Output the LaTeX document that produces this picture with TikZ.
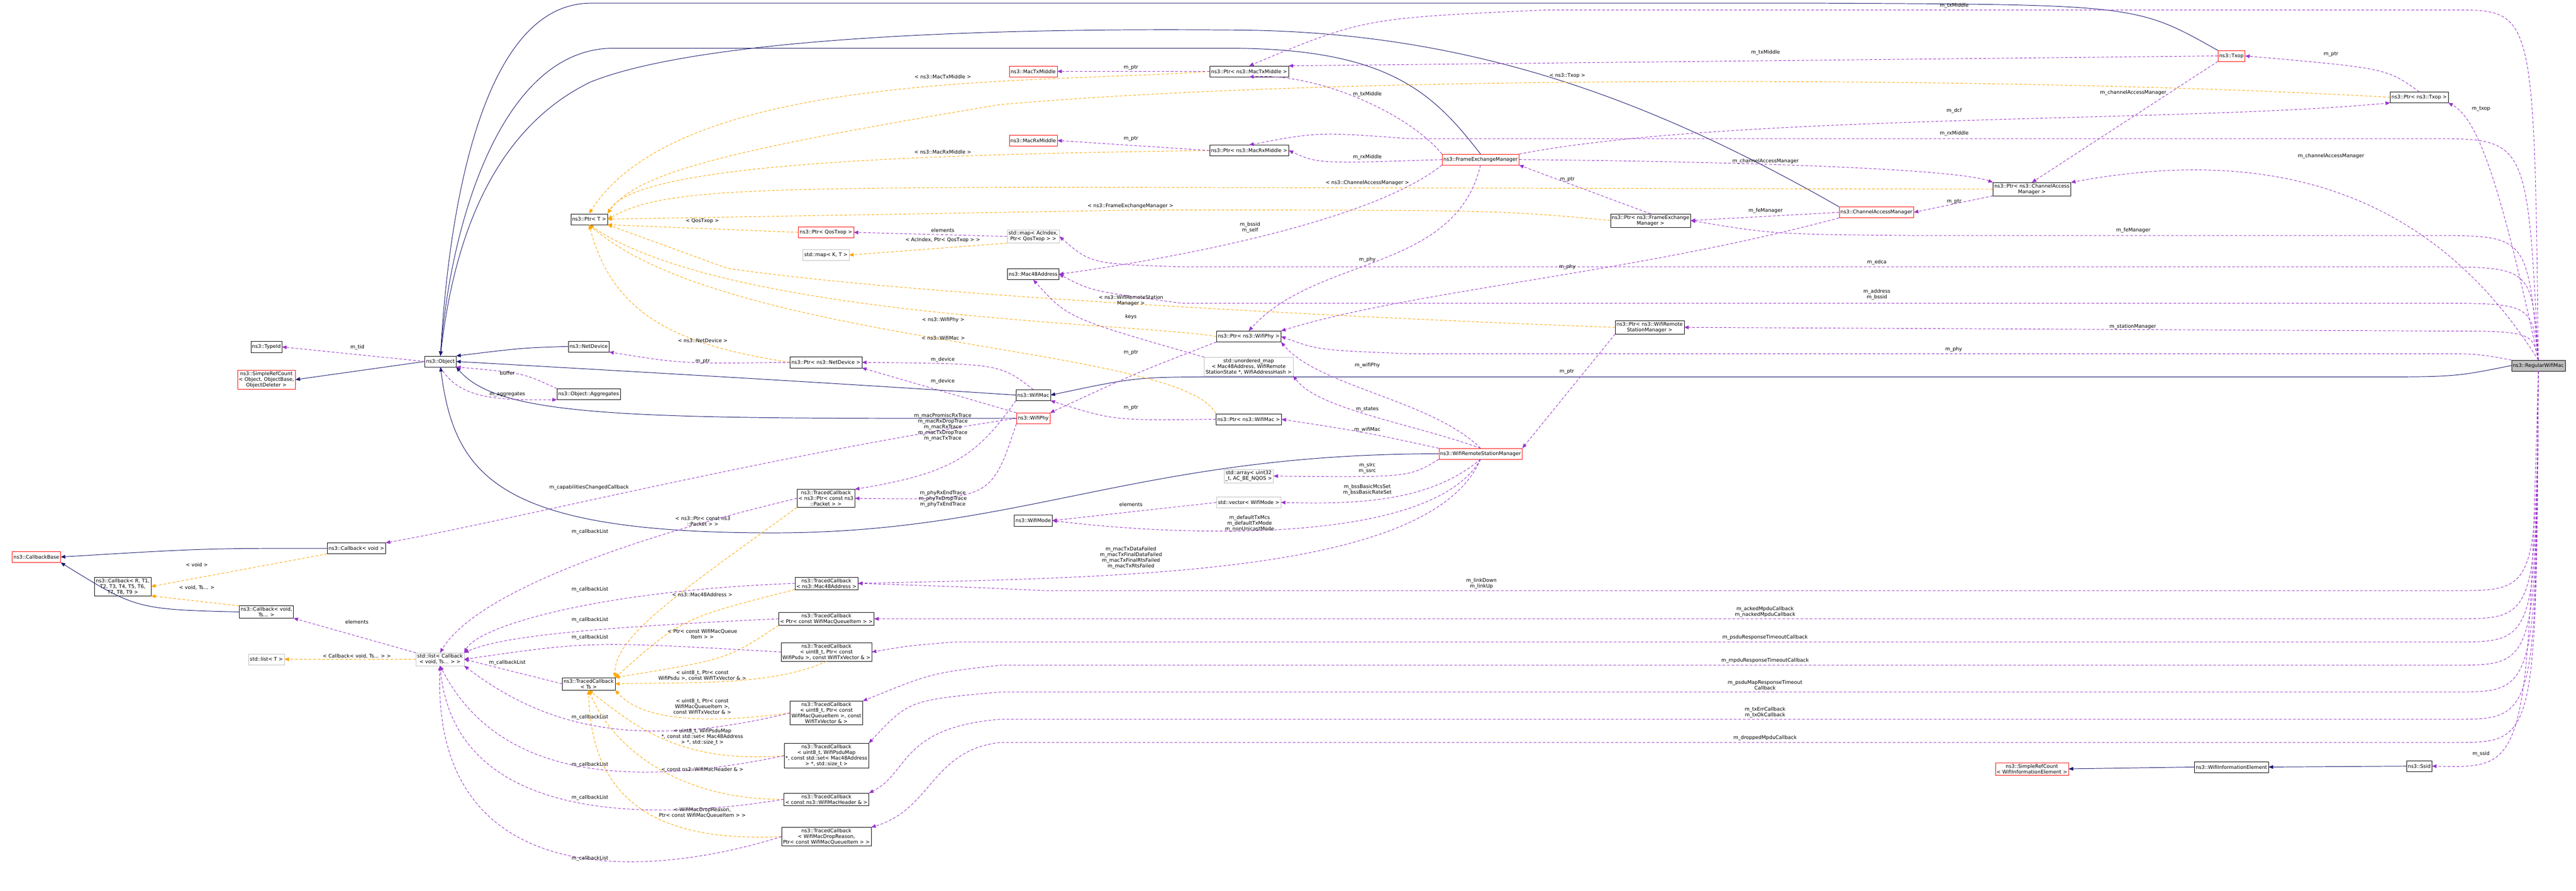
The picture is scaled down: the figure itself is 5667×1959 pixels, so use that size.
\documentclass[tikz,border=0pt]{standalone}
\usepackage{fontspec}
\usepackage{tikz}
\usetikzlibrary{arrows.meta}
\newfontfamily\dgfont{DejaVu Sans}
\newcommand\dgf{\dgfont\fontsize{11}{12.5}\selectfont}
\definecolor{navyblue}{HTML}{191970}
\definecolor{orchid}{HTML}{9A32CD}
\definecolor{tplorange}{HTML}{FFA500}
\tikzset{
  cls/.style={draw=black, fill=white, inner sep=3pt, minimum height=24pt, align=center, font=\dgf},
  redcls/.style={cls, draw=red},
  stdcls/.style={cls, draw=black!25},
  curcls/.style={cls, fill=black!25},
  lbl/.style={font=\dgf, align=center, inner sep=1pt},
  inh/.style={draw=navyblue, line width=1.1pt, -{Triangle[length=10pt,width=8pt]}},
  member/.style={draw=orchid, line width=1.1pt, dash pattern=on 6pt off 4pt, -{Triangle[length=10pt,width=8pt]}},
  tpl/.style={draw=tplorange, line width=1.1pt, dash pattern=on 6pt off 4pt, -{Triangle[length=10pt,width=8pt]}}
}
\begin{document}
\begin{tikzpicture}[x=1pt,y=-1pt]
\useasboundingbox (0,0) rectangle (5667,1959);
% classes
\node[curcls] (rwm) at (5584,804) {ns3::RegularWifiMac};
\node[cls] (obj) at (969,795) {ns3::Object};
\node[cls] (tid) at (586,763) {ns3::TypeId};
\node[redcls] (srco) at (586,835) {ns3::SimpleRefCount\\< Object, ObjectBase,\\ ObjectDeleter >};
\node[cls] (netdev) at (1295,762) {ns3::NetDevice};
\node[cls] (aggr) at (1295,867) {ns3::Object::Aggregates};
\node[cls] (ptrt) at (1296,482) {ns3::Ptr< T >};
\node[redcls] (ptrqos) at (1817,511) {ns3::Ptr< QosTxop >};
\node[stdcls] (mapkt) at (1817,561) {std::map< K, T >};
\node[stdcls] (mapac) at (2273,520) {std::map< AcIndex,\\ Ptr< QosTxop > >};
\node[cls] (mac48) at (2273,603) {ns3::Mac48Address};
\node[redcls] (txmid) at (2273,157) {ns3::MacTxMiddle};
\node[redcls] (rxmid) at (2273,309) {ns3::MacRxMiddle};
\node[cls] (ptrtxmid) at (2748,157) {ns3::Ptr< ns3::MacTxMiddle >};
\node[cls] (ptrrxmid) at (2748,331) {ns3::Ptr< ns3::MacRxMiddle >};
\node[redcls] (fem) at (3257,351) {ns3::FrameExchangeManager};
\node[cls] (ptrfem) at (3631,485) {ns3::Ptr< ns3::FrameExchange\\ Manager >};
\node[redcls] (cam) at (4128,467) {ns3::ChannelAccessManager};
\node[cls] (ptrcam) at (4470,416) {ns3::Ptr< ns3::ChannelAccess\\ Manager >};
\node[redcls] (txop) at (4909,123) {ns3::Txop};
\node[cls] (ptrtxop) at (5322,214) {ns3::Ptr< ns3::Txop >};
\node[cls] (ptrwrsm) at (3629,720) {ns3::Ptr< ns3::WifiRemote\\ StationManager >};
\node[redcls] (wrsm) at (3257,998) {ns3::WifiRemoteStationManager};
\node[cls] (ptrphy) at (2747,740) {ns3::Ptr< ns3::WifiPhy >};
\node[stdcls] (umap) at (2747,806) {std::unordered\_map\\< Mac48Address, WifiRemote\\ StationState *, WifiAddressHash >};
\node[cls] (wmac) at (2273,869) {ns3::WifiMac};
\node[redcls] (wphy) at (2273,920) {ns3::WifiPhy};
\node[cls] (ptrmac) at (2747,922) {ns3::Ptr< ns3::WifiMac >};
\node[stdcls] (arr) at (2747,1047) {std::array< uint32\\ \_t, AC\_BE\_NQOS >};
\node[stdcls] (vecmode) at (2747,1105) {std::vector< WifiMode >};
\node[cls] (mode) at (2273,1145) {ns3::WifiMode};
\node[cls] (ptrnd) at (1817,797) {ns3::Ptr< ns3::NetDevice >};
\node[cls] (tcpkt) at (1817,1096) {ns3::TracedCallback\\< ns3::Ptr< const ns3\\ ::Packet > >};
\node[cls] (cbvoid) at (784,1206) {ns3::Callback< void >};
\node[redcls] (cbbase) at (80,1225) {ns3::CallbackBase};
\node[cls] (cbr) at (270,1290) {ns3::Callback< R, T1,\\ T2, T3, T4, T5, T6,\\ T7, T8, T9 >};
\node[cls] (cbts) at (586,1346) {ns3::Callback< void,\\ Ts... >};
\node[stdcls] (lstcb) at (968,1450) {std::list< Callback\\ < void, Ts... > >};
\node[stdcls] (lstt) at (586,1450) {std::list< T >};
\node[cls] (tcts) at (1295,1504) {ns3::TracedCallback\\ < Ts >};
\node[cls] (tcmac) at (1818,1283) {ns3::TracedCallback\\< ns3::Mac48Address >};
\node[cls] (tcqi) at (1818,1361) {ns3::TracedCallback\\< Ptr< const WifiMacQueueItem > >};
\node[cls] (tcpsdu) at (1818,1434) {ns3::TracedCallback\\< uint8\_t, Ptr< const\\ WifiPsdu >, const WifiTxVector \& >};
\node[cls] (tcmpdu) at (1818,1568) {ns3::TracedCallback\\< uint8\_t, Ptr< const\\ WifiMacQueueItem >, const\\ WifiTxVector \& >};
\node[cls] (tcmap) at (1818,1662) {ns3::TracedCallback\\< uint8\_t, WifiPsduMap\\ *, const std::set< Mac48Address\\ > *, std::size\_t >};
\node[cls] (tchdr) at (1818,1758) {ns3::TracedCallback\\< const ns3::WifiMacHeader \& >};
\node[cls] (tcdrop) at (1818,1840) {ns3::TracedCallback\\< WifiMacDropReason,\\ Ptr< const WifiMacQueueItem > >};
\node[redcls] (srcwie) at (4470,1691) {ns3::SimpleRefCount\\< WifiInformationElement >};
\node[cls] (wie) at (4909,1687) {ns3::WifiInformationElement};
\node[cls] (ssid) at (5322,1685) {ns3::Ssid};

% inheritance
\draw[inh] (rwm.west) .. controls (5400,829) .. (5200,829) -- (2700,829) .. controls (2500,829) .. (wmac.east);
\draw[inh] (wmac.west) .. controls (1800,840) and (1300,812) .. (obj.east);
\draw[inh] (wphy.west) .. controls (1400,921) and (1100,920) .. (obj.south east);
\draw[inh] (netdev.west) .. controls (1150,765) .. (obj.north east);
\draw[inh] (obj.west) -- (srco.east);
\draw[inh] (wrsm.west) .. controls (2500,998) and (2250,1172) .. (1700,1172) .. controls (1100,1172) and (1000,1050) .. (obj.south);
\draw[inh] (txop.north west) .. controls (4700,10) .. (4000,7) -- (1300,7) .. controls (1050,7) and (985,500) .. (obj.north);
\draw[inh] (fem.north) .. controls (3150,200) and (3050,106) .. (2700,106) -- (1350,106) .. controls (1100,106) and (990,500) .. (obj.north);
\draw[inh] (cam.north west) .. controls (3600,200) and (3200,66) .. (2700,66) .. controls (2000,60) and (1500,100) .. (1300,180) .. controls (1050,300) and (990,600) .. (obj.north);
\draw[inh] (wie.west) -- (srcwie.east);
\draw[inh] (ssid.west) -- (wie.east);
\draw[inh] (cbvoid.west) .. controls (450,1206) .. (cbbase.east);
\draw[inh] (cbts.west) .. controls (300,1340) .. (cbbase.south east);

% template instances
\draw[tpl] (ptrtxmid.west) .. controls (2300,185) and (1500,150) .. (ptrt.north);
\draw[tpl] (ptrrxmid.west) .. controls (2000,340) and (1400,360) .. (ptrt.north east);
\draw[tpl] (ptrtxop.west) .. controls (4500,170) and (3000,160) .. (2200,230) .. controls (1600,330) and (1400,380) .. (ptrt.north east);
\draw[tpl] (ptrcam.west) -- (2400,412) .. controls (1600,412) and (1450,420) .. (ptrt.east);
\draw[tpl] (ptrfem.west) .. controls (3300,462) .. (2500,462) -- (ptrt.east);
\draw[tpl] (ptrqos.west) -- (ptrt.south east);
\draw[tpl] (ptrwrsm.west) .. controls (3000,700) and (2000,650) .. (1600,590) -- (ptrt.south east);
\draw[tpl] (ptrphy.west) .. controls (2500,710) and (1600,700) .. (ptrt.south);
\draw[tpl] (ptrmac.north west) .. controls (2600,760) and (1600,760) .. (ptrt.south);
\draw[tpl] (ptrnd.west) .. controls (1500,760) and (1350,700) .. (ptrt.south);
\draw[tpl] (mapac.south west) -- (mapkt.east);
\draw[tpl] (cbvoid.south west) -- (cbr.east);
\draw[tpl] (cbts.north west) -- (cbr.south east);
\draw[tpl] (lstcb.west) -- (lstt.east);
\draw[tpl] (tcpkt.south west) .. controls (1500,1300) and (1350,1400) .. (tcts.north east);
\draw[tpl] (tcmac.south west) .. controls (1500,1360) .. (tcts.north east);
\draw[tpl] (tcqi.south west) .. controls (1600,1450) .. (tcts.north east);
\draw[tpl] (tcpsdu.south) .. controls (1700,1510) and (1500,1500) .. (tcts.east);
\draw[tpl] (tcmpdu.west) .. controls (1500,1600) and (1400,1570) .. (tcts.south east);
\draw[tpl] (tcmap.west) .. controls (1500,1680) and (1400,1600) .. (tcts.south);
\draw[tpl] (tchdr.west) .. controls (1500,1760) and (1350,1650) .. (tcts.south);
\draw[tpl] (tcdrop.west) .. controls (1500,1850) and (1300,1800) .. (tcts.south);

% members
\draw[member] (obj.west) -- (tid.east);
\draw[member] (aggr.north west) .. controls (1150,820) .. (obj.south east);
\draw[member] (obj.south) .. controls (1010,880) and (1100,880) .. (aggr.south west);
\draw[member] (ptrtxmid.west) -- (txmid.east);
\draw[member] (ptrrxmid.west) -- (rxmid.east);
\draw[member] (ptrnd.west) .. controls (1500,800) .. (netdev.south east);
\draw[member] (ptrphy.south west) .. controls (2500,820) .. (wphy.north east);
\draw[member] (ptrmac.west) .. controls (2450,925) .. (wmac.south east);
\draw[member] (ptrfem.north) -- (fem.south east);
\draw[member] (ptrcam.south west) -- (cam.east);
\draw[member] (ptrtxop.north) .. controls (5250,150) .. (txop.east);
\draw[member] (ptrwrsm.south west) -- (wrsm.north east);
\draw[member] (mapac.west) -- (ptrqos.east);
\draw[member] (umap.north west) .. controls (2350,700) .. (mac48.south);
\draw[member] (vecmode.west) -- (mode.east);
\draw[member] (lstcb.north west) -- (cbts.south east);
% frame exchange manager
\draw[member] (fem.north west) .. controls (3100,250) and (2900,160) .. (ptrtxmid.south);
\draw[member] (fem.west) .. controls (2900,360) .. (ptrrxmid.east);
\draw[member] (fem.east) .. controls (3800,355) and (4300,370) .. (ptrcam.north west);
\draw[member] (fem.south west) .. controls (3000,500) and (2500,580) .. (mac48.east);
\draw[member] (fem.south) .. controls (3200,600) and (2900,560) .. (ptrphy.north);
\draw[member] (fem.north east) .. controls (3800,250) and (4800,270) .. (ptrtxop.south west);
\draw[member] (cam.west) -- (ptrfem.east);
\draw[member] (cam.south west) .. controls (3600,600) and (3100,640) .. (ptrphy.north east);
\draw[member] (txop.west) -- (ptrtxmid.north east);
\draw[member] (txop.south west) -- (ptrcam.north);
% regular wifi mac
\draw[member] (rwm.north) .. controls (5575,22) .. (5400,22) -- (3400,22) .. controls (3000,40) .. (ptrtxmid.north);
\draw[member] (rwm.north) .. controls (5500,400) and (5450,260) .. (ptrtxop.south east);
\draw[member] (rwm.north) .. controls (5560,305) .. (5350,305) -- (3100,305) .. controls (2900,290) .. (ptrrxmid.north);
\draw[member] (rwm.north) .. controls (5400,500) and (5100,300) .. (ptrcam.north east);
\draw[member] (rwm.north) .. controls (5560,518) .. (5350,518) -- (4200,518) .. controls (3900,515) .. (ptrfem.east);
\draw[member] (rwm.north) .. controls (5570,587) .. (5350,587) -- (2600,587) .. controls (2400,580) .. (mapac.east);
\draw[member] (rwm.north) .. controls (5570,667) .. (5350,667) -- (2600,667) .. controls (2400,640) .. (mac48.east);
\draw[member] (rwm.north) .. controls (5570,728) .. (5350,728) -- (ptrwrsm.east);
\draw[member] (rwm.north west) .. controls (5450,778) .. (5350,778) -- (3100,778) .. controls (2900,770) .. (ptrphy.east);
\draw[member] (rwm.south) .. controls (5580,1299) .. (5400,1299) -- (2300,1299) .. controls (2100,1290) .. (tcmac.east);
\draw[member] (rwm.south) .. controls (5580,1361) .. (5400,1361) -- (tcqi.east);
\draw[member] (rwm.south) .. controls (5580,1412) .. (5400,1412) -- (2100,1412) .. controls (2000,1420) .. (tcpsdu.east);
\draw[member] (rwm.south) .. controls (5580,1463) .. (5400,1463) -- (2200,1463) .. controls (2050,1480) .. (tcmpdu.north east);
\draw[member] (rwm.south) .. controls (5580,1522) .. (5400,1522) -- (2200,1522) .. controls (2000,1540) .. (tcmap.north east);
\draw[member] (rwm.south) .. controls (5580,1582) .. (5400,1582) -- (2200,1582) .. controls (1980,1600) and (2000,1700) .. (tchdr.north east);
\draw[member] (rwm.south) .. controls (5580,1633) .. (5400,1633) -- (2200,1633) .. controls (2050,1650) and (2050,1780) .. (tcdrop.north east);
\draw[member] (rwm.south) .. controls (5560,1690) .. (ssid.east);
% wifi mac and phy
\draw[member] (wmac.north) .. controls (2200,800) .. (ptrnd.east);
\draw[member] (wphy.north west) -- (ptrnd.south east);
\draw[member] (wmac.south west) .. controls (2150,1000) and (2100,1040) .. (tcpkt.north east);
\draw[member] (wphy.south west) .. controls (2180,1100) .. (tcpkt.east);
\draw[member] (wphy.west) .. controls (1700,1000) and (1100,1150) .. (cbvoid.north east);
% remote station manager
\draw[member] (wrsm.north) .. controls (3150,880) and (2900,850) .. (ptrphy.south east);
\draw[member] (wrsm.north) .. controls (3100,930) and (2900,900) .. (umap.south east);
\draw[member] (wrsm.north west) .. controls (3000,950) .. (ptrmac.east);
\draw[member] (wrsm.south west) .. controls (3100,1050) .. (arr.east);
\draw[member] (wrsm.south) .. controls (3150,1100) and (3000,1110) .. (vecmode.east);
\draw[member] (wrsm.south) .. controls (3150,1200) and (2600,1180) .. (mode.east);
\draw[member] (wrsm.south) .. controls (3150,1260) and (2500,1270) .. (tcmac.east);
% callbacks
\draw[member] (tcts.west) -- (lstcb.east);
\draw[member] (tcpkt.west) .. controls (1400,1180) and (1050,1300) .. (lstcb.north);
\draw[member] (tcmac.west) .. controls (1300,1300) and (1050,1380) .. (lstcb.north east);
\draw[member] (tcqi.west) .. controls (1300,1380) and (1100,1400) .. (lstcb.north east);
\draw[member] (tcpsdu.west) .. controls (1300,1410) .. (lstcb.east);
\draw[member] (tcmpdu.west) .. controls (1400,1650) and (1200,1600) .. (lstcb.south east);
\draw[member] (tcmap.west) .. controls (1400,1730) and (1100,1720) .. (lstcb.south);
\draw[member] (tchdr.west) .. controls (1400,1810) and (1000,1800) .. (lstcb.south);
\draw[member] (tcdrop.west) .. controls (1400,1940) and (950,1950) .. (lstcb.south);

% labels
\node[lbl] (l1) at (786,764) {m\_tid};
\node[lbl] (l2) at (1116,820) {buffer};
\node[lbl] (l3) at (1116,867) {m\_aggregates};
\node[lbl] (l4) at (2488,149) {m\_ptr};
\node[lbl] (l5) at (2488,305) {m\_ptr};
\node[lbl] (l6) at (1546,795) {m\_ptr};
\node[lbl] (l7) at (2488,776) {m\_ptr};
\node[lbl] (l8) at (2488,897) {m\_ptr};
\node[lbl] (l9) at (3448,395) {m\_ptr};
\node[lbl] (l10) at (4299,443) {m\_ptr};
\node[lbl] (l11) at (5128,119) {m\_ptr};
\node[lbl] (l12) at (3447,817) {m\_ptr};
\node[lbl] (l13) at (2074,169) {< ns3::MacTxMiddle >};
\node[lbl] (l14) at (2074,334) {< ns3::MacRxMiddle >};
\node[lbl] (l15) at (3448,166) {< ns3::Txop >};
\node[lbl] (l16) at (3008,402) {< ns3::ChannelAccessManager >};
\node[lbl] (l17) at (2487,453) {< ns3::FrameExchangeManager >};
\node[lbl] (l18) at (1545,486) {< QosTxop >};
\node[lbl] (l19) at (2074,506) {elements};
\node[lbl] (l20) at (2074,528) {< AcIndex, Ptr< QosTxop > >};
\node[lbl] (l21) at (2488,661) {< ns3::WifiRemoteStation\\ Manager >};
\node[lbl] (l22) at (2488,697) {keys};
\node[lbl] (l23) at (2075,704) {< ns3::WifiPhy >};
\node[lbl] (l24) at (2075,743) {< ns3::WifiMac >};
\node[lbl] (l25) at (1546,749) {< ns3::NetDevice >};
\node[lbl] (l26) at (2074,791) {m\_device};
\node[lbl] (l27) at (2074,839) {m\_device};
\node[lbl] (l28) at (2074,940) {m\_macPromiscRxTrace\\m\_macRxDropTrace\\m\_macRxTrace\\m\_macTxDropTrace\\m\_macTxTrace};
\node[lbl] (l29) at (2074,1097) {m\_phyRxEndTrace\\m\_phyTxDropTrace\\m\_phyTxEndTrace};
\node[lbl] (l30) at (1296,1072) {m\_capabilitiesChangedCallback};
\node[lbl] (l31) at (1546,1146) {< ns3::Ptr< const ns3\\ ::Packet > >};
\node[lbl] (l32) at (3008,207) {m\_txMiddle};
\node[lbl] (l33) at (3008,346) {m\_rxMiddle};
\node[lbl] (l34) at (3884,355) {m\_channelAccessManager};
\node[lbl] (l35) at (2750,500) {m\_bssid\\m\_self};
\node[lbl] (l36) at (3008,571) {m\_phy};
\node[lbl] (l37) at (4299,244) {m\_dcf};
\node[lbl] (l38) at (3884,115) {m\_txMiddle};
\node[lbl] (l39) at (4693,204) {m\_channelAccessManager};
\node[lbl] (l40) at (3884,464) {m\_feManager};
\node[lbl] (l41) at (3448,587) {m\_phy};
\node[lbl] (l42) at (4299,12) {m\_txMiddle};
\node[lbl] (l43) at (5458,239) {m\_txop};
\node[lbl] (l44) at (4299,293) {m\_rxMiddle};
\node[lbl] (l45) at (5128,343) {m\_channelAccessManager};
\node[lbl] (l46) at (4693,507) {m\_feManager};
\node[lbl] (l47) at (4129,577) {m\_edca};
\node[lbl] (l48) at (4129,648) {m\_address\\m\_bssid};
\node[lbl] (l49) at (4692,718) {m\_stationManager};
\node[lbl] (l50) at (4298,768) {m\_phy};
\node[lbl] (l51) at (3008,803) {m\_wifiPhy};
\node[lbl] (l52) at (3008,900) {m\_states};
\node[lbl] (l53) at (3008,945) {m\_wifiMac};
\node[lbl] (l54) at (3008,1030) {m\_slrc\\m\_ssrc};
\node[lbl] (l55) at (3008,1077) {m\_bssBasicMcsSet\\m\_bssBasicRateSet};
\node[lbl] (l56) at (2488,1110) {elements};
\node[lbl] (l57) at (2749,1152) {m\_defaultTxMcs\\m\_defaultTxMode\\m\_nonUnicastMode};
\node[lbl] (l58) at (2488,1227) {m\_macTxDataFailed\\m\_macTxFinalDataFailed\\m\_macTxFinalRtsFailed\\m\_macTxRtsFailed};
\node[lbl] (l59) at (3259,1284) {m\_linkDown\\m\_linkUp};
\node[lbl] (l60) at (3883,1346) {m\_ackedMpduCallback\\m\_nackedMpduCallback};
\node[lbl] (l61) at (3883,1402) {m\_psduResponseTimeoutCallback};
\node[lbl] (l62) at (3883,1453) {m\_mpduResponseTimeoutCallback};
\node[lbl] (l63) at (3883,1507) {m\_psduMapResponseTimeout\\Callback};
\node[lbl] (l64) at (3883,1567) {m\_txErrCallback\\m\_txOkCallback};
\node[lbl] (l65) at (3883,1623) {m\_droppedMpduCallback};
\node[lbl] (l66) at (5458,1658) {m\_ssid};
\node[lbl] (l67) at (433,1242) {< void >};
\node[lbl] (l68) at (433,1292) {< void, Ts... >};
\node[lbl] (l69) at (785,1368) {elements};
\node[lbl] (l70) at (785,1443) {< Callback< void, Ts... > >};
\node[lbl] (l71) at (1116,1458) {m\_callbackList};
\node[lbl] (l72) at (1298,1170) {m\_callbackList};
\node[lbl] (l73) at (1298,1296) {m\_callbackList};
\node[lbl] (l74) at (1298,1363) {m\_callbackList};
\node[lbl] (l75) at (1298,1402) {m\_callbackList};
\node[lbl] (l76) at (1298,1578) {m\_callbackList};
\node[lbl] (l77) at (1298,1682) {m\_callbackList};
\node[lbl] (l78) at (1298,1755) {m\_callbackList};
\node[lbl] (l79) at (1298,1888) {m\_callbackList};
\node[lbl] (l80) at (1545,1308) {< ns3::Mac48Address >};
\node[lbl] (l81) at (1545,1394) {< Ptr< const WifiMacQueue\\ Item > >};
\node[lbl] (l82) at (1545,1486) {< uint8\_t, Ptr< const\\ WifiPsdu >, const WifiTxVector \& >};
\node[lbl] (l83) at (1545,1554) {< uint8\_t, Ptr< const\\ WifiMacQueueItem >,\\ const WifiTxVector \& >};
\node[lbl] (l84) at (1545,1621) {< uint8\_t, WifiPsduMap\\ *, const std::set< Mac48Address\\ > *, std::size\_t >};
\node[lbl] (l85) at (1545,1692) {< const ns3::WifiMacHeader \& >};
\node[lbl] (l86) at (1545,1787) {< WifiMacDropReason,\\ Ptr< const WifiMacQueueItem > >};
\end{tikzpicture}
\end{document}
